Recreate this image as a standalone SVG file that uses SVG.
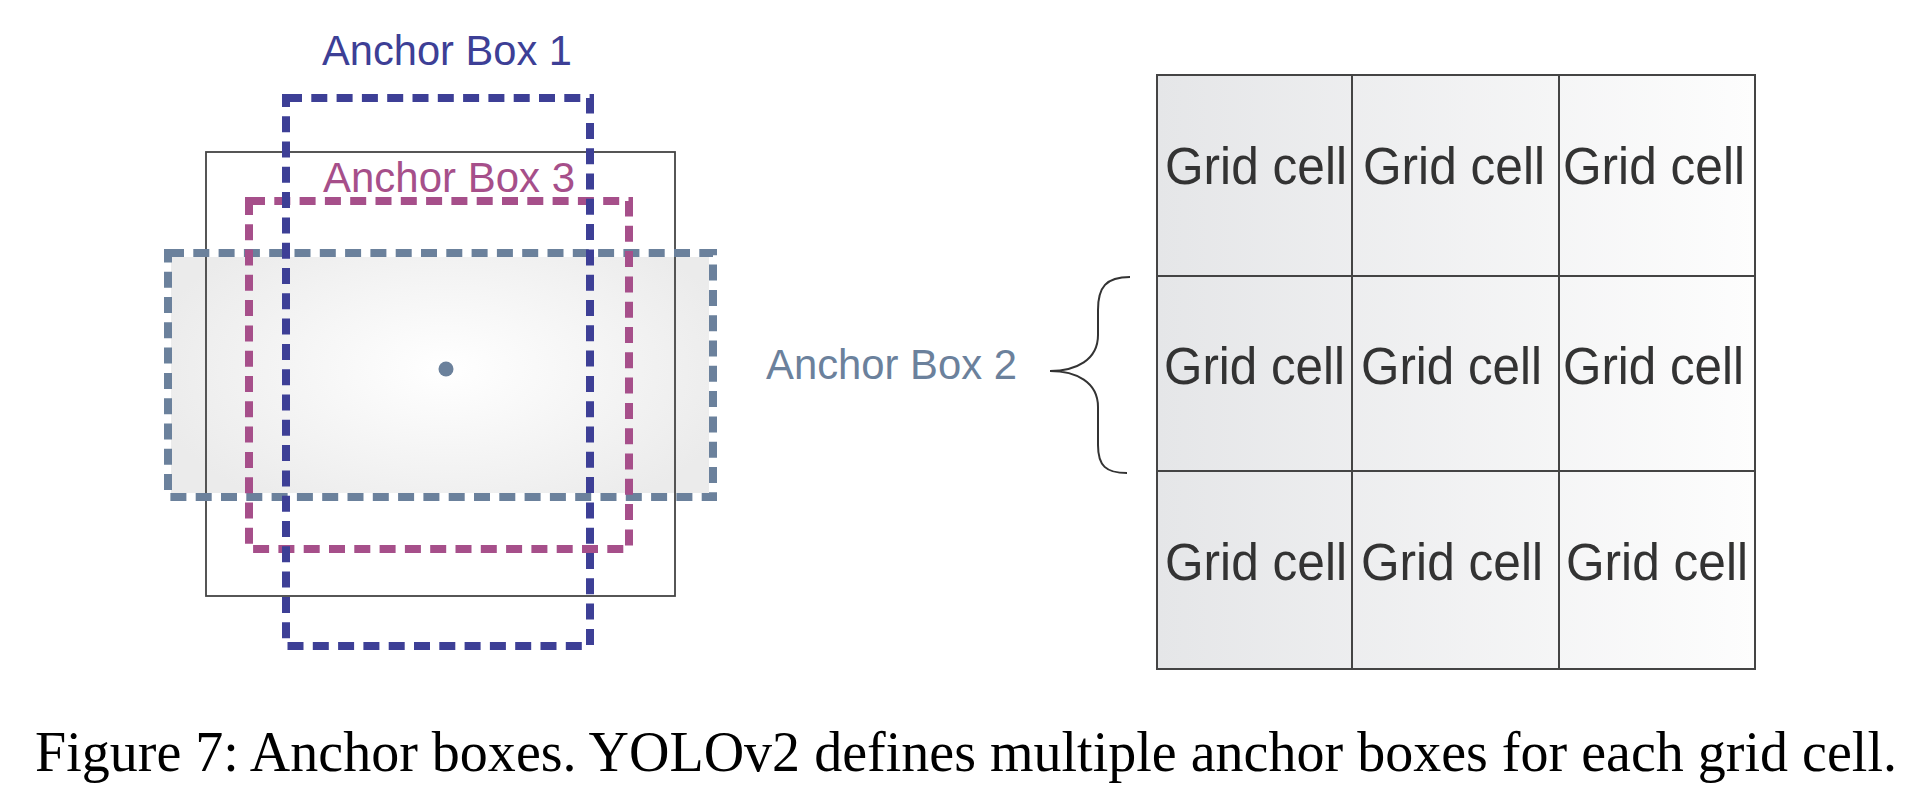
<svg xmlns="http://www.w3.org/2000/svg" width="1906" height="794" viewBox="0 0 1906 794">
<style>
.lbl{font-family:"Liberation Sans",Arial,sans-serif;font-size:42px}
.cell{font-family:"Liberation Sans",Arial,sans-serif;font-size:51px;fill:#333333}
.dash{fill:none;stroke-width:8;stroke-dasharray:16 9.3}
.grid{fill:none;stroke:#444444;stroke-width:2}
.cap{font-family:"Liberation Serif","Times New Roman",serif;font-size:56px;fill:#000000}
</style>
<defs>
<radialGradient id="g2" cx="446" cy="369" r="300" gradientUnits="userSpaceOnUse" gradientTransform="translate(446 369) scale(1 0.55) translate(-446 -369)">
<stop offset="0" stop-color="#ffffff"/>
<stop offset="1" stop-color="#ebebeb"/>
</radialGradient>
<linearGradient id="gg" x1="1157" y1="0" x2="1755" y2="0" gradientUnits="userSpaceOnUse">
<stop offset="0" stop-color="#e5e6e8"/>
<stop offset="1" stop-color="#fdfdfd"/>
</linearGradient>
</defs>
<rect width="1906" height="794" fill="#ffffff"/>

<g id="anchor-area">
<rect id="box2-fill" x="171" y="257" width="538" height="236" fill="url(#g2)"/>
<rect id="frame" x="206" y="152" width="469" height="444" fill="none" stroke="#444444" stroke-width="1.8"/>
<g id="anchor-box-2"><rect class="dash" x="168" y="253" width="545" height="244" stroke="#6b819c"/></g>
<g id="anchor-box-3"><rect class="dash" x="249" y="201" width="380" height="348" stroke="#a64f8a"/></g>
<g id="anchor-box-1"><rect class="dash" x="286" y="98" width="304" height="548" stroke="#3d3f96"/></g>
<circle id="center" cx="446" cy="369" r="7.5" fill="#6b819c"/>
<text class="lbl" x="322" y="65" fill="#3d3f96" textLength="250" lengthAdjust="spacingAndGlyphs">Anchor Box 1</text>
<text class="lbl" x="323" y="192" fill="#a64f8a" textLength="252" lengthAdjust="spacingAndGlyphs">Anchor Box 3</text>
</g>

<g id="label-2">
<text class="lbl" x="766" y="379" fill="#6b819c" textLength="251" lengthAdjust="spacingAndGlyphs">Anchor Box 2</text>
</g>

<g id="connectors">
<path d="M1130,277 C1106,277 1098,287 1098,310 L1098,335 C1098,360 1076,371 1050,371 C1076,371 1098,382 1098,407 L1098,445 C1098,466 1106,473 1127,473" fill="none" stroke="#333333" stroke-width="2"/>
</g>

<g id="grid">
<rect x="1157" y="75" width="598" height="594" fill="url(#gg)"/>
<rect class="grid" x="1157" y="75" width="598" height="594"/>
<line class="grid" x1="1352" y1="75" x2="1352" y2="669"/>
<line class="grid" x1="1559" y1="75" x2="1559" y2="669"/>
<line class="grid" x1="1157" y1="276" x2="1755" y2="276"/>
<line class="grid" x1="1157" y1="471" x2="1755" y2="471"/>
<g id="cell-1-1"><text class="cell" x="1165" y="184" textLength="182" lengthAdjust="spacingAndGlyphs">Grid cell</text></g>
<g id="cell-1-2"><text class="cell" x="1363" y="184" textLength="182" lengthAdjust="spacingAndGlyphs">Grid cell</text></g>
<g id="cell-1-3"><text class="cell" x="1563" y="184" textLength="182" lengthAdjust="spacingAndGlyphs">Grid cell</text></g>
<g id="cell-2-1"><text class="cell" x="1164" y="384" textLength="181" lengthAdjust="spacingAndGlyphs">Grid cell</text></g>
<g id="cell-2-2"><text class="cell" x="1361" y="384" textLength="181" lengthAdjust="spacingAndGlyphs">Grid cell</text></g>
<g id="cell-2-3"><text class="cell" x="1563" y="384" textLength="181" lengthAdjust="spacingAndGlyphs">Grid cell</text></g>
<g id="cell-3-1"><text class="cell" x="1165" y="580" textLength="182" lengthAdjust="spacingAndGlyphs">Grid cell</text></g>
<g id="cell-3-2"><text class="cell" x="1361" y="580" textLength="182" lengthAdjust="spacingAndGlyphs">Grid cell</text></g>
<g id="cell-3-3"><text class="cell" x="1566" y="580" textLength="182" lengthAdjust="spacingAndGlyphs">Grid cell</text></g>
</g>

<g id="caption">
<text class="cap" x="35" y="771" textLength="1862" lengthAdjust="spacing">Figure 7:  Anchor boxes.  YOLOv2 defines multiple anchor boxes for each grid cell.</text>
</g>
</svg>
